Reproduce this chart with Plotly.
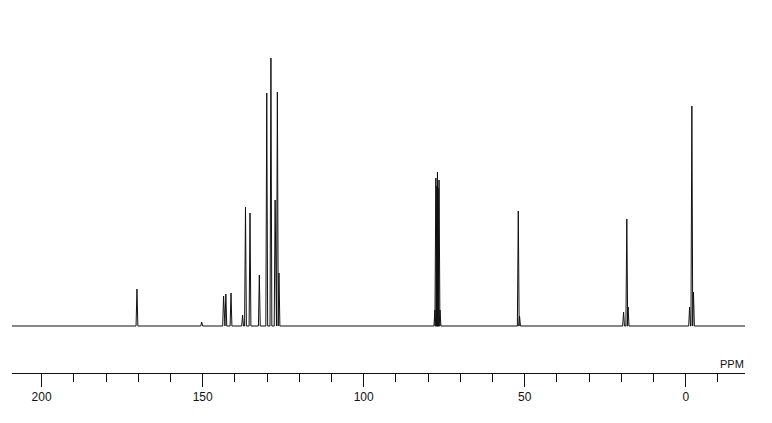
import plotly.graph_objects as go

# Peak list (chemical shift in ppm, apparent height in px units)
peak_ppm = [170.4, 150.3, 143.5, 142.8, 141.2, 137.6, 136.7, 135.3, 132.4,
            130.1, 128.8, 127.5, 126.8, 126.3,
            77.9, 77.6, 77.3, 77.1, 76.9, 76.6, 76.3,
            52.0, 51.6,
            19.3, 18.3, 17.9,
            -1.2, -1.9, -2.4]
peak_height = [37, 4, 30, 32, 33, 11, 119, 113, 51,
               233, 268, 126, 234, 53,
               16, 148, 140, 154, 138, 146, 16,
               115, 10,
               14, 107, 19,
               19, 220, 34]

tick_values = [200, 150, 100, 50, 0]
tick_labels = ["200", "150", "100", "50", "0"]
axis_title = "PPM"

ppm_range = [209.2, -18.4]
half_width = 0.28

# Build the spectrum line: baseline with a narrow line for each peak
order = sorted(range(len(peak_ppm)), key=lambda i: -peak_ppm[i])
xs = [ppm_range[0]]
ys = [0]
for i in order:
    p, h = peak_ppm[i], peak_height[i]
    xs += [p + half_width, p, p - half_width]
    ys += [0, h, 0]
xs.append(ppm_range[1])
ys.append(0)

fig = go.Figure()
fig.add_trace(go.Scatter(x=xs, y=ys, mode="lines",
                         line=dict(color="#111111", width=1),
                         hoverinfo="skip", showlegend=False))

fig.add_annotation(x=-14.4, y=-38, xref="x", yref="y", text=axis_title,
                   showarrow=False, xanchor="center", yanchor="middle",
                   font=dict(family="Liberation Sans", size=11, color="#111111"))

fig.update_xaxes(range=ppm_range, showline=True, linecolor="#111111", linewidth=1,
                 showgrid=False, zeroline=False,
                 tickmode="array", tickvals=tick_values, ticktext=tick_labels,
                 ticks="outside", ticklen=13, tickwidth=1, tickcolor="#111111",
                 tickfont=dict(family="Liberation Sans", size=12, color="#111111"),
                 minor=dict(dtick=10, tick0=0, ticks="outside", ticklen=8,
                            tickwidth=1, tickcolor="#111111", showgrid=False))
fig.update_yaxes(visible=False, range=[-47, 306])

fig.update_layout(width=772, height=423, margin=dict(l=4, r=35, t=12, b=58),
                  paper_bgcolor="white", plot_bgcolor="white")

fig.write_html("out.html")
